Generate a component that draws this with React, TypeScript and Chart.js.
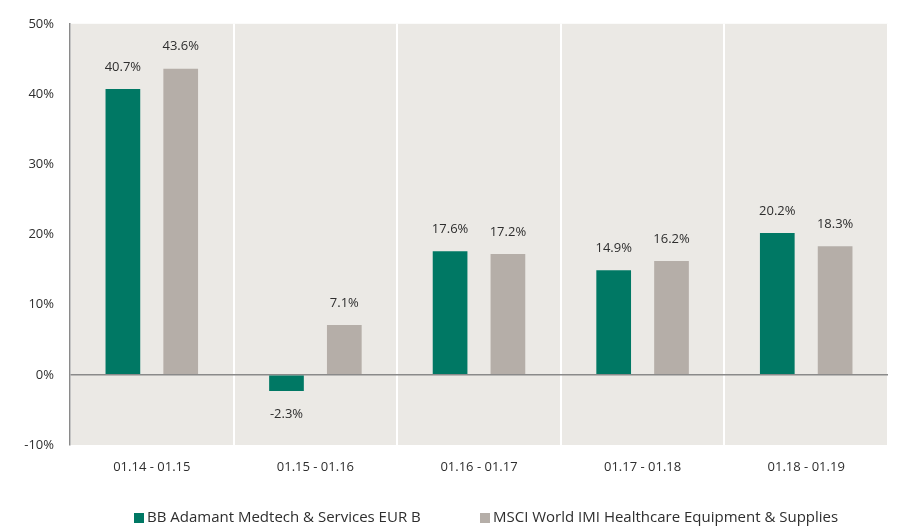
import React, { useEffect, useRef } from "react";
import { Chart, registerables } from "chart.js";

Chart.register(...registerables);

const categories = ["01.14 - 01.15", "01.15 - 01.16", "01.16 - 01.17", "01.17 - 01.18", "01.18 - 01.19"];
const fundValues = [40.7, -2.3, 17.6, 14.9, 20.2];
const indexValues = [43.6, 7.1, 17.2, 16.2, 18.3];
const seriesNames = ["BB Adamant Medtech & Services EUR B", "MSCI World IMI Healthcare Equipment & Supplies"];
const seriesColors = ["#007864", "#b5aea8"];

const FONT = "'Open Sans', sans-serif";
const TEXT = "#2e2e2e";

export default function App() {
  const ref = useRef<HTMLCanvasElement | null>(null);
  useEffect(() => {
    if (!ref.current) return;
    const bgPlugin = {
      id: "bg",
      beforeDraw(chart: any) {
        const { ctx, chartArea: a } = chart;
        ctx.save();
        ctx.fillStyle = "#ebe9e5";
        ctx.fillRect(a.left, a.top, a.right - a.left, a.bottom - a.top);
        ctx.restore();
      },
    };
    const labelPlugin = {
      id: "labels",
      afterDatasetsDraw(chart: any) {
        const { ctx } = chart;
        ctx.save();
        ctx.font = `13px ${FONT}`;
        ctx.fillStyle = TEXT;
        ctx.textAlign = "center";
        ctx.textBaseline = "middle";
        chart.data.datasets.forEach((ds: any, di: number) => {
          const meta = chart.getDatasetMeta(di);
          meta.data.forEach((bar: any, i: number) => {
            const v = ds.data[i];
            const y = v >= 0 ? bar.y - 22 : bar.y + 23;
            ctx.fillText(v.toFixed(1) + "%", bar.x, y);
          });
        });
        ctx.restore();
      },
    };
    const legendPlugin = {
      id: "customLegend",
      afterDraw(chart: any) {
        const { ctx } = chart;
        ctx.save();
        ctx.font = `15px ${FONT}`;
        ctx.textBaseline = "middle";
        const xs = [134, 480];
        const y = 518;
        seriesNames.forEach((n, i) => {
          ctx.fillStyle = seriesColors[i];
          ctx.fillRect(xs[i], y - 5, 10, 10);
          ctx.fillStyle = TEXT;
          ctx.textAlign = "left";
          ctx.fillText(n, xs[i] + 13, y);
        });
        ctx.restore();
      },
    };
    const chart = new Chart(ref.current, {
      type: "bar",
      data: {
        labels: categories,
        datasets: [
          { label: seriesNames[0], data: fundValues, backgroundColor: seriesColors[0] },
          { label: seriesNames[1], data: indexValues, backgroundColor: seriesColors[1] },
        ],
      },
      options: {
        animation: false,
        responsive: true,
        maintainAspectRatio: false,
        layout: { padding: { top: 20, right: 14, bottom: 42, left: 8 } },
        datasets: { bar: { categoryPercentage: 0.707, barPercentage: 0.6 } },
        plugins: { legend: { display: false }, tooltip: { enabled: false } },
        scales: {
          x: {
            grid: { color: "#ffffff", lineWidth: 2, drawTicks: false, offset: true },
            border: { display: false },
            ticks: { color: TEXT, font: { family: FONT, size: 13 }, padding: 14 },
            afterFit(scale: any) { scale.height = 40; },
          },
          y: {
            min: -10,
            max: 50,
            ticks: {
              stepSize: 10,
              color: TEXT,
              font: { family: FONT, size: 13 },
              padding: 16,
              callback: (v: any) => v + "%",
            },
            grid: {
              drawTicks: false,
              color: (c: any) => (c.tick && c.tick.value === 0 ? "#8a8a8a" : "rgba(0,0,0,0)"),
              lineWidth: 1.5,
            },
            border: { display: true, color: "#8a8a8a", width: 1.5 },
            afterFit(scale: any) { scale.width = 62; },
          },
        },
      },
      plugins: [bgPlugin, labelPlugin, legendPlugin],
    });
    return () => chart.destroy();
  }, []);
  return (
    <div style={{ position: "absolute", left: 0, top: 0, width: 902, height: 527 }}>
      <canvas ref={ref} />
    </div>
  );
}
